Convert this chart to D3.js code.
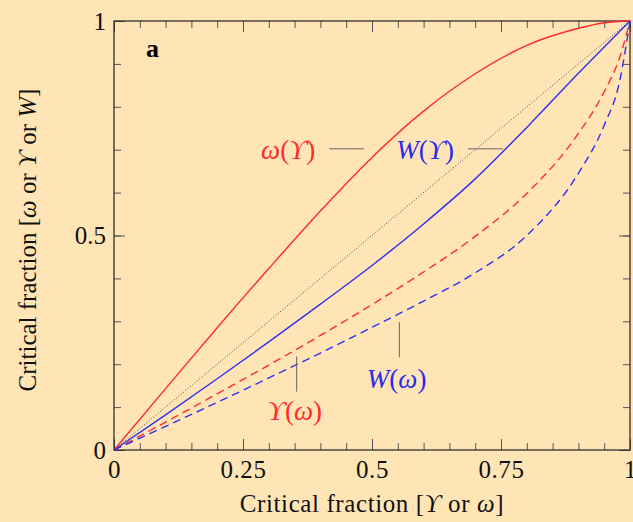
<!DOCTYPE html>
<html>
<head>
<meta charset="utf-8">
<script src="https://cdn.jsdelivr.net/npm/d3@7"></script>
<style>
  body { margin: 0; background: #ffe4b5; }
  svg { display: block; }
  text { font-family: "Liberation Serif", "DejaVu Serif", serif; }
</style>
</head>
<body>
<svg id="chart" width="633" height="522"></svg>
<script>
/* Data: [x, y] pairs */
var omegaOfY = [[0,0],[0.1,0.143],[0.2,0.285],[0.3,0.423],[0.4,0.557],[0.5,0.682],[0.6,0.79],[0.7,0.877],[0.8,0.943],[0.9,0.983],[0.95,0.996],[1,1]];
var wOfY = [[0,0],[0.1,0.082],[0.2,0.166],[0.3,0.252],[0.4,0.34],[0.5,0.43],[0.6,0.527],[0.7,0.632],[0.8,0.752],[0.9,0.878],[1,1]];
var yOfOmega = [[0,0],[0.1,0.065],[0.2,0.131],[0.3,0.198],[0.4,0.267],[0.5,0.339],[0.6,0.415],[0.7,0.498],[0.8,0.598],[0.9,0.738],[0.95,0.835],[0.98,0.915],[1,1]];
var wOfOmega = [[0,0],[0.1,0.055],[0.2,0.111],[0.3,0.168],[0.4,0.226],[0.5,0.286],[0.6,0.347],[0.7,0.413],[0.8,0.5],[0.9,0.645],[0.95,0.757],[0.98,0.86],[1,1]];
var diagonal = [[0,0],[1,1]];

// Tick values
var xMajor = [0, 0.25, 0.5, 0.75, 1];
var xMinor = d3.range(0, 21).map(function(i){ return i / 20; });
var yMajor = [0, 0.5, 1];
var yMinor = d3.range(0, 11).map(function(i){ return i / 10; });
var xTickLabels = ["0", "0.25", "0.5", "0.75", "1"];
var yTickLabels = ["0", "0.5", "1"];

// Curve labels: name parts, anchor in data units, leader line in data units
var curveLabels = [
  {parts: ["ω", "(", "ϒ", ")"], color: "#ff2a2a", at: [0.285, 0.678], leader: [[0.417, 0.702], [0.484, 0.702]]},
  {parts: ["W", "(", "ϒ", ")"], color: "#2a2af0", at: [0.547, 0.678], leader: [[0.686, 0.702], [0.754, 0.702]]},
  {parts: ["ϒ", "(", "ω", ")"], color: "#ff2a2a", at: [0.298, 0.07], leader: [[0.354, 0.218], [0.354, 0.136]]},
  {parts: ["W", "(", "ω", ")"], color: "#2a2af0", at: [0.49, 0.145], leader: [[0.553, 0.298], [0.553, 0.216]]}
];

var svg = d3.select("#chart");
var x = d3.scaleLinear().domain([0, 1]).range([114, 630]);
var y = d3.scaleLinear().domain([0, 1]).range([450, 21]);

svg.append("rect").attr("width", 633).attr("height", 522).attr("fill", "#ffe4b5");

function drawTicks(axisFn, scale, vals, size, tx, ty, labels) {
  var ax = axisFn(scale).tickValues(vals).tickSizeInner(-size).tickSizeOuter(0)
    .tickPadding(labels ? 11 : 0)
    .tickFormat(function(d, i){ return labels ? labels[i] : ""; });
  var g = svg.append("g").attr("transform", "translate(" + tx + "," + ty + ")").call(ax);
  g.select(".domain").remove();
  g.selectAll(".tick line").attr("stroke", "#555").attr("stroke-width", 1);
  g.selectAll(".tick text").attr("font-size", 25).attr("fill", "#111")
    .attr("font-family", "Liberation Serif, serif");
  return g;
}

drawTicks(d3.axisBottom, x, xMinor, 7, 0, 450, null);
var xl = drawTicks(d3.axisBottom, x, xMajor, 11, 0, 450, xTickLabels);
xl.selectAll(".tick text").attr("y", 10).attr("letter-spacing", 0.6);
drawTicks(d3.axisTop, x, xMinor, 7, 0, 21, null);
drawTicks(d3.axisTop, x, xMajor, 11, 0, 21, null);
drawTicks(d3.axisLeft, y, yMinor, 7, 114, 0, null);
var yl = drawTicks(d3.axisLeft, y, yMajor, 11, 114, 0, yTickLabels);
yl.selectAll(".tick text").attr("x", -8);
drawTicks(d3.axisRight, y, yMinor, 7, 630, 0, null);
drawTicks(d3.axisRight, y, yMajor, 11, 630, 0, null);

// Frame
svg.append("rect")
  .attr("x", x(0)).attr("y", y(1))
  .attr("width", x(1) - x(0)).attr("height", y(0) - y(1))
  .attr("fill", "none").attr("stroke", "#222").attr("stroke-width", 1.2);

var line = d3.line()
  .x(function(d){ return x(d[0]); })
  .y(function(d){ return y(d[1]); })
  .curve(d3.curveMonotoneX);

var g = svg.append("g");
g.append("path").datum(diagonal).attr("d", line)
  .attr("fill", "none").attr("stroke", "#444").attr("stroke-width", 1).attr("stroke-dasharray", "1,2");
g.append("path").datum(omegaOfY).attr("d", line)
  .attr("fill", "none").attr("stroke", "#ff2a2a").attr("stroke-width", 1.4);
g.append("path").datum(wOfY).attr("d", line)
  .attr("fill", "none").attr("stroke", "#3030f0").attr("stroke-width", 1.4);
g.append("path").datum(yOfOmega).attr("d", line)
  .attr("fill", "none").attr("stroke", "#ff2a2a").attr("stroke-width", 1.4).attr("stroke-dasharray", "8,5");
g.append("path").datum(wOfOmega).attr("d", line)
  .attr("fill", "none").attr("stroke", "#3030f0").attr("stroke-width", 1.4).attr("stroke-dasharray", "8,5");

// Curve labels
curveLabels.forEach(function(c){
  svg.append("line")
    .attr("x1", x(c.leader[0][0])).attr("y1", y(c.leader[0][1]))
    .attr("x2", x(c.leader[1][0])).attr("y2", y(c.leader[1][1]))
    .attr("stroke", "#666").attr("stroke-width", 1);
  var t = svg.append("text")
    .attr("x", x(c.at[0])).attr("y", y(c.at[1]))
    .attr("fill", c.color).attr("font-size", 27);
  c.parts.forEach(function(p){
    t.append("tspan").text(p)
      .attr("font-style", (p === "(" || p === ")") ? "normal" : "italic");
  });
});

// Panel letter
svg.append("text").attr("x", 146).attr("y", 57)
  .attr("font-size", 26).attr("font-weight", "bold").text("a");

// Axis titles
var xt = svg.append("text").attr("x", 372).attr("y", 512)
  .attr("text-anchor", "middle").attr("font-size", 25).attr("fill", "#111")
  .attr("letter-spacing", 0.6);
xt.append("tspan").text("Critical fraction [");
xt.append("tspan").attr("font-style", "italic").text("ϒ");
xt.append("tspan").text(" or ");
xt.append("tspan").attr("font-style", "italic").text("ω");
xt.append("tspan").text("]");

var yt = svg.append("text")
  .attr("transform", "translate(36,240) rotate(-90)")
  .attr("text-anchor", "middle").attr("font-size", 25).attr("fill", "#111");
yt.append("tspan").text("Critical fraction [");
yt.append("tspan").attr("font-style", "italic").text("ω");
yt.append("tspan").text(" or ");
yt.append("tspan").attr("font-style", "italic").text("ϒ");
yt.append("tspan").text(" or ");
yt.append("tspan").attr("font-style", "italic").text("W");
yt.append("tspan").text("]");
</script>
</body>
</html>
